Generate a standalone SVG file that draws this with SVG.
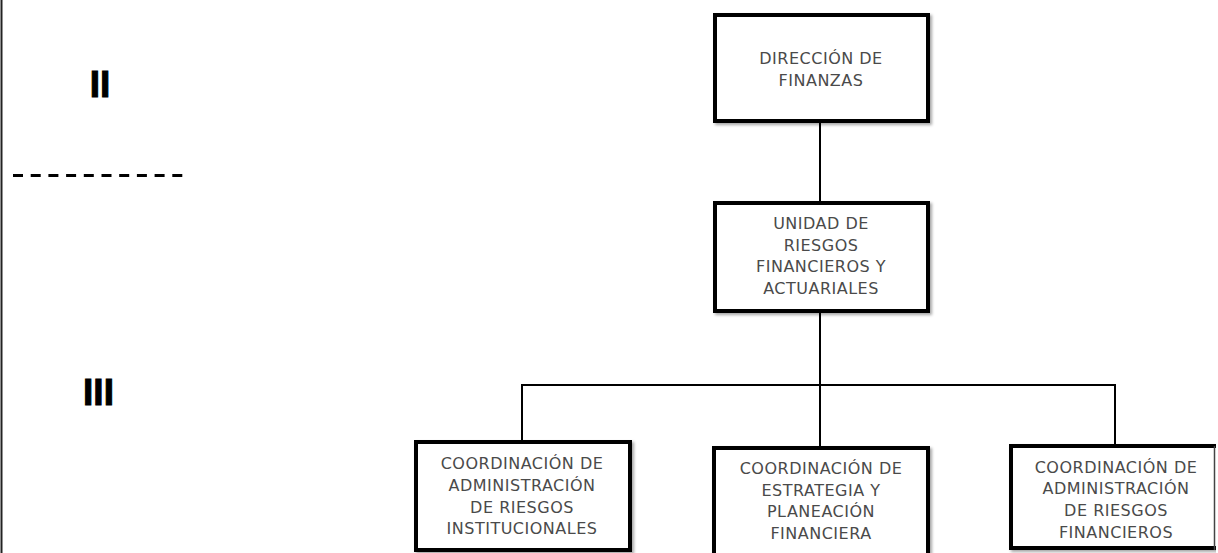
<svg xmlns="http://www.w3.org/2000/svg" width="1218" height="553" viewBox="0 0 1218 553">
<defs>
<filter id="sh" x="-10%" y="-10%" width="130%" height="130%">
<feDropShadow dx="2" dy="2" stdDeviation="1.5" flood-color="#000" flood-opacity="0.35"/>
</filter>
<style>
.box{fill:#fff;stroke:#000;stroke-width:4;filter:url(#sh)}
.lbl{font-family:"DejaVu Sans","Open Sans",sans-serif;font-size:16px;letter-spacing:0.5px;fill:#4a4a4a;text-anchor:middle}
.rom{font-family:"Liberation Sans",Arial,sans-serif;font-weight:bold;font-size:37px;fill:#000;stroke:#000;stroke-width:1;text-anchor:middle}
.con{stroke:#000;stroke-width:2;fill:none}
</style>
</defs>
<rect width="1218" height="553" fill="#fff"/>
<line x1="1.5" y1="0" x2="1.5" y2="553" stroke="#222" stroke-width="2"/>
<text class="rom" x="100" y="97">II</text>
<text class="rom" x="98.5" y="405">III</text>
<line x1="13" y1="175.5" x2="183" y2="175.5" stroke="#000" stroke-width="3" stroke-dasharray="10 7.7"/>
<g id="connectors">
<line class="con" x1="820" y1="123" x2="820" y2="201"/>
<line class="con" x1="820" y1="313" x2="820" y2="446"/>
<polyline class="con" points="522,440 522,385 1115,385 1115,444"/>
</g>
<g id="n-direccion">
<rect class="box" x="715" y="15" width="213" height="106"/>
<text class="lbl"><tspan x="821" y="64">DIRECCIÓN DE</tspan><tspan x="821" y="86">FINANZAS</tspan></text>
</g>
<g id="n-unidad">
<rect class="box" x="715" y="203" width="213" height="108"/>
<text class="lbl"><tspan x="821" y="229">UNIDAD DE</tspan><tspan x="821" y="251">RIESGOS</tspan><tspan x="821" y="272">FINANCIEROS Y</tspan><tspan x="821" y="294">ACTUARIALES</tspan></text>
</g>
<g id="n-institucionales">
<rect class="box" x="416" y="442" width="214" height="108"/>
<text class="lbl"><tspan x="522" y="469">COORDINACIÓN DE</tspan><tspan x="522" y="491">ADMINISTRACIÓN</tspan><tspan x="522" y="513">DE RIESGOS</tspan><tspan x="522" y="534">INSTITUCIONALES</tspan></text>
</g>
<g id="n-estrategia">
<rect class="box" x="714" y="448" width="214" height="120"/>
<text class="lbl"><tspan x="821" y="474">COORDINACIÓN DE</tspan><tspan x="821" y="496">ESTRATEGIA Y</tspan><tspan x="821" y="517">PLANEACIÓN</tspan><tspan x="821" y="539">FINANCIERA</tspan></text>
</g>
<g id="n-financieros">
<rect class="box" x="1011" y="446" width="240" height="102"/>
<line x1="1214.5" y1="446" x2="1214.5" y2="550" stroke="#444" stroke-width="1.5"/>
<rect x="1216" y="440" width="2" height="113" fill="#fff"/>
<text class="lbl"><tspan x="1116" y="473">COORDINACIÓN DE</tspan><tspan x="1116" y="494">ADMINISTRACIÓN</tspan><tspan x="1116" y="516">DE RIESGOS</tspan><tspan x="1116" y="538">FINANCIEROS</tspan></text>
</g>
</svg>
